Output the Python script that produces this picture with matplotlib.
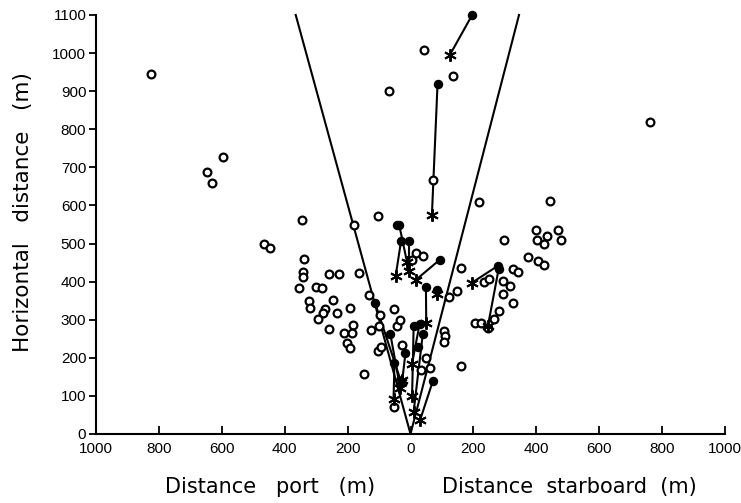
import matplotlib
matplotlib.use("Agg")
import matplotlib.pyplot as plt

# open circles: sightings without a track
open_x = [-824, -597, -648, -630, 760, 42, 136, -70, 72, -465, -448,
          -346, -104, -180, -340, -342, -342, -355, -258, -228, -165, -302,
          -282, -247, -324, -321, -273, -279, -233, -191, -133, -96, -53,
          -293, -260, -183, -210, -187, -203, -191, -149, -127, -100, -103,
          -95, -54, -26, -44, -33,
          18, 41, 4, 105, 110, 108, 159, 34, 63, 50, 148, 121,
          217, 444, 296, 400, 468, 402, 433, 423, 479, 374, 406, 426, 327,
          341, 161, 235, 251, 295, 316, 293, 327, 281, 264, 206, 225, 246]
open_y = [945, 727, 688, 660, 820, 1007, 940, 900, 666, 499, 487,
          562, 572, 549, 459, 426, 413, 382, 419, 419, 423, 385,
          382, 353, 350, 332, 329, 318, 318, 330, 366, 312, 327,
          303, 276, 286, 266, 264, 238, 225, 157, 273, 283, 217,
          228, 70, 234, 283, 299,
          476, 467, 458, 270, 257, 241, 178, 168, 172, 199, 375, 360,
          610, 612, 508, 535, 535, 508, 520, 498, 508, 465, 455, 443, 432,
          426, 435, 400, 407, 402, 389, 367, 343, 323, 303, 292, 292, 279]

# tracked animals: first position (filled dot) -> last position (asterisk)
dot_x = [196, 86, -36, -30, -5, 94, 49, 84, 277, 280, -113, -64, -51, -16, 10, 29, 39, 71]
dot_y = [1100, 920, 549, 507, 506, 458, 387, 378, 441, 432, 345, 262, 187, 213, 283, 289, 262, 139]
star_x = [125, 68, -11, -47, -5, 16, 50, 84, 195, 246, -30, -33, -54, -26, 5, 5, 10, 31]
star_y = [995, 574, 451, 416, 428, 404, 292, 367, 397, 283, 137, 120, 91, 142, 100, 185, 59, 38]

# extra filled dots without a matching asterisk
extra_dot_x = [-44, 25]
extra_dot_y = [549, 228]

# edges of the sector
sector_x = [-365, 0, 345]
sector_y = [1100, 0, 1100]

xticks = [-1000, -800, -600, -400, -200, 0, 200, 400, 600, 800, 1000]
yticks = [0, 100, 200, 300, 400, 500, 600, 700, 800, 900, 1000, 1100]

fig = plt.figure(figsize=(7.41, 5.03), dpi=100)
ax = fig.add_axes([0.1296, 0.1372, 0.8488, 0.833])

ax.plot(sector_x, sector_y, color='black', lw=1.5, clip_on=False)

for x0, y0, x1, y1 in zip(dot_x, dot_y, star_x, star_y):
    ax.plot([x0, x1], [y0, y1], color='black', lw=1.5, clip_on=False)

ax.plot(open_x, open_y, 'o', ms=5.6, mfc='white', mec='black', mew=1.6, ls='none')
ax.plot(dot_x + extra_dot_x, dot_y + extra_dot_y, 'o', ms=5.8, color='black', ls='none', clip_on=False)
ax.plot(star_x, star_y, marker=(6, 2, 0), ms=9, color='black', mew=1.4, ls='none', clip_on=False)

ax.set_xlim(-1000, 1000)
ax.set_ylim(0, 1100)
ax.set_xticks(xticks)
ax.set_xticklabels([str(abs(t)) for t in xticks])
ax.set_yticks(yticks)

for s in ['top', 'right']:
    ax.spines[s].set_visible(False)
for s in ['left', 'bottom']:
    ax.spines[s].set_linewidth(1.5)

ax.tick_params(axis='x', direction='in', length=6, width=1.3, labelsize=11, pad=6)
ax.tick_params(axis='y', direction='out', length=5, width=1.3, labelsize=11, pad=2)
for lab in ax.get_xticklabels() + ax.get_yticklabels():
    lab.set_fontfamily('Liberation Sans')

ax.set_ylabel("Horizontal   distance   (m)", fontsize=15.5)
ax.yaxis.set_label_coords(-0.1, 0.53)
fig.text(270 / 741, 1 - 487 / 503, "Distance   port   (m)", fontsize=15, ha='center', va='center')
fig.text(569 / 741, 1 - 487 / 503, "Distance  starboard  (m)", fontsize=15, ha='center', va='center')

fig.savefig("out.png", dpi=100)
